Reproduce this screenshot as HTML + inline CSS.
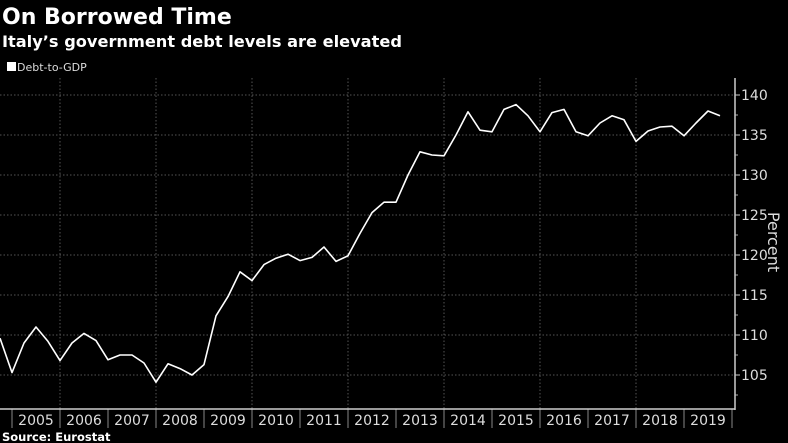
<!DOCTYPE html>
<html><head><meta charset="utf-8"><style>
html,body{margin:0;padding:0;background:#000;width:788px;height:443px;overflow:hidden}
svg{display:block;font-family:"DejaVu Sans","Liberation Sans",sans-serif}
</style></head><body>
<svg id="chart" width="788" height="443">
<text x="2" y="24" fill="#fff" font-size="22" font-weight="bold">On Borrowed Time</text>
<text x="2" y="47" fill="#fff" font-size="16.2" font-weight="bold">Italy’s government debt levels are elevated</text>
<rect x="7" y="62" width="9" height="9" fill="#fff"/>
<text x="17" y="71" fill="#ddd" font-size="11">Debt-to-GDP</text>
<g id="grid"></g><g id="axes"></g><g id="series"></g>
<text transform="translate(768,242) rotate(90)" text-anchor="middle" fill="#ddd" font-size="16">Percent</text>
<text x="2" y="441" fill="#fff" font-size="11.5" font-weight="bold">Source:  Eurostat</text>
</svg>
<script>
const values = [109.6,105.3,109.0,111.0,109.2,106.8,109.0,110.2,109.3,106.9,107.5,107.5,106.5,104.1,106.4,105.8,105.0,106.3,112.4,114.8,117.9,116.8,118.8,119.6,120.1,119.3,119.7,121.0,119.2,119.9,122.7,125.3,126.6,126.6,130.0,132.9,132.5,132.4,135.0,137.9,135.6,135.4,138.2,138.8,137.4,135.4,137.8,138.2,135.4,134.9,136.5,137.4,136.9,134.2,135.5,136.0,136.1,134.9,136.5,138.0,137.4];
const years = ["2005","2006","2007","2008","2009","2010","2011","2012","2013","2014","2015","2016","2017","2018","2019"];
const yTicks = [105,110,115,120,125,130,135,140];
const NS='http://www.w3.org/2000/svg';
const y = v => 95 + (140 - v) * 8;
const xq = i => i * 12;
const xy = k => 12 + k * 48;
const AX = 735, BOT = 409, TOP = 78;
function mk(tag, attrs, parent){const e=document.createElementNS(NS,tag);for(const k in attrs)e.setAttribute(k,attrs[k]);parent.appendChild(e);return e;}
const grid=document.getElementById('grid'), axes=document.getElementById('axes'), series=document.getElementById('series');
yTicks.forEach(t=>{
  const l=mk('line',{x1:0,x2:AX,y1:y(t),y2:y(t),stroke:'#555','stroke-dasharray':'1.5,2'},grid);
  
  
  const tk=mk('line',{x1:AX,x2:AX+5,y1:y(t),y2:y(t),stroke:'#ccc'},axes);
  
  
  const tx=mk('text',{x:AX+6,y:y(t)+5,fill:'#ddd','font-size':14},axes);
  tx.textContent=t;
  
  
});
for(let v=102.5; v<=142.5; v+=5){ if(y(v)>TOP && y(v)<BOT){
  const m=mk('line',{x1:AX,x2:AX+3,y1:y(v),y2:y(v),stroke:'#aaa'},axes);
  
  
}}
years.forEach((yr,k)=>{
  if(k%2===1){
    const g=mk('line',{x1:xy(k),x2:xy(k),y1:TOP,y2:BOT,stroke:'#555','stroke-dasharray':'1.5,2'},grid);
    
    
  }
  const s=mk('line',{x1:xy(k),x2:xy(k),y1:BOT,y2:428,stroke:'#888'},axes);
  
  
  const tx=mk('text',{x:xy(k)+24,y:425,fill:'#ddd','font-size':14,'text-anchor':'middle'},axes);
  tx.textContent=yr;
  
  
});
const endSep=mk('line',{x1:xy(years.length),x2:xy(years.length),y1:BOT,y2:428,stroke:'#888'},axes);


const ya=mk('line',{x1:AX,x2:AX,y1:TOP,y2:BOT+1,stroke:'#ccc','stroke-width':1.5},axes);


const xa=mk('line',{x1:0,x2:AX,y1:BOT,y2:BOT,stroke:'#ccc','stroke-width':1.5},axes);


const p=mk('polyline',{points:values.map((v,i)=>xq(i)+','+y(v)).join(' '),fill:'none',stroke:'#fff','stroke-width':1.6,'stroke-linejoin':'round'},series);


</script>
</body></html>
